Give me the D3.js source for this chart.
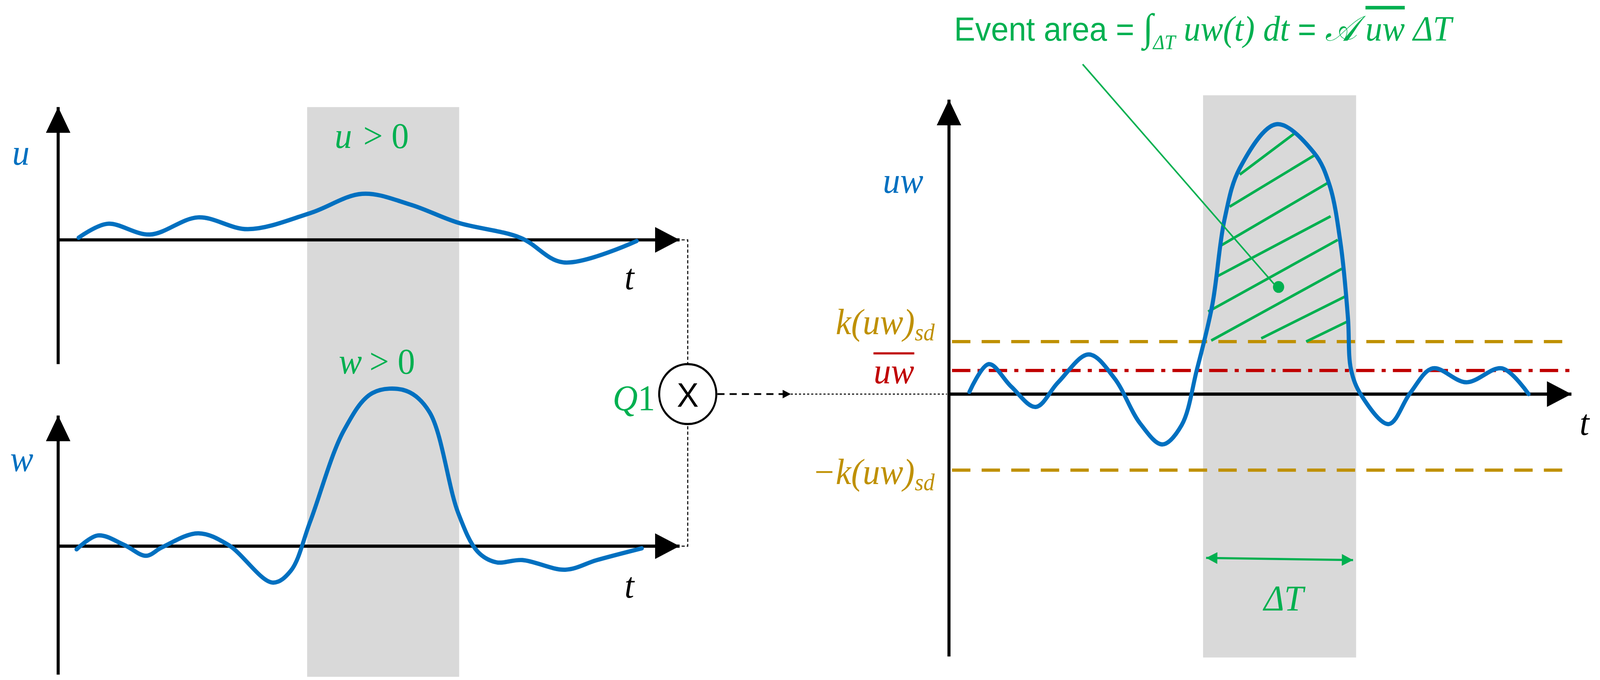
<!DOCTYPE html>
<html><head><meta charset="utf-8">
<script src="https://cdn.jsdelivr.net/npm/d3@7"></script>
<style>html,body{margin:0;padding:0;background:#fff;overflow:hidden}svg{display:block}</style>
</head><body>
<script>
// signals, t in viewBox units, value = height above each panel's time axis
const uT = [77,105,147,194,243,304,355,402,449,510,552,624]
const uV = [2,15,5,21,10,25,43,33,16,2,-21,-1]
const wT = [75,96,122,143,159,194,224,267,285,304,337,365,398,421,449,468,486,512,554,585,629]
const wV = [-3,10,1,-9,-1,12,1,-34,-23,23,108,143,145,125,31,-5,-15,-13,-22,-13,-2]
const uwT = [950,969,991,1015,1037,1067,1092,1117,1139,1158,1173,1188,1200,1215,1251,1288,1303,1314,1321,1324,1334,1361,1382,1404,1437,1472,1498]
const uwV = [2,28,7,-12,11,37,15,-27,-47,-29,23,83,163,211,252,225,195,139,71,23,-1,-28,1,24,11,24,0]
const uwMean = 22, kSd = 49, negKSd = -71
// hatch segments inside the event [t0, v0, t1, v1]
const hatch = [[1215,205,1268,243],[1205,175,1290,224],[1197,139,1301,197],[1193,110,1304,166],[1184,77,1311,144],[1187,50,1315,117],[1236,52,1318,91],[1280,49,1321,68]]
const eventStart = 1182, eventEnd = 1326

const svg = d3.select("body").append("svg")
  .attr("width", "100vw").attr("height", "100vh")
  .attr("viewBox", "0 0 1568 635").attr("preserveAspectRatio", "none")

const blue = "#0070C0", green = "#00B050", gold = "#BF9000", red = "#C00000", grey = "#D9D9D9"
const x = d3.scaleLinear().domain([0, 1568]).range([0, 1568])
const yU = d3.scaleLinear().domain([0, 100]).range([224, 124])
const yW = d3.scaleLinear().domain([0, 100]).range([510, 410])
const yUW = d3.scaleLinear().domain([0, 100]).range([368, 268])

const defs = svg.append("defs")
function marker(id, color, w, h) {
  defs.append("marker").attr("id", id).attr("viewBox", "0 0 10 10").attr("refX", 10).attr("refY", 5)
    .attr("markerWidth", w).attr("markerHeight", h).attr("markerUnits", "userSpaceOnUse").attr("orient", "auto-start-reverse")
    .append("path").attr("d", "M0,0L10,5L0,10Z").attr("fill", color)
}
marker("ax", "#000", 25, 24)
marker("gr", green, 12, 11)
marker("sm", "#000", 9, 8)

// grey event bands
svg.append("rect").attr("x", 301).attr("y", 100).attr("width", 149).attr("height", 532).attr("fill", grey)
svg.append("rect").attr("x", x(eventStart) - 3).attr("y", 89).attr("width", 150).attr("height", 525).attr("fill", grey)

function axes(x0, yTop, yAxis, yBot, xEnd) {
  svg.append("line").attr("x1", x0).attr("y1", yBot).attr("x2", x0).attr("y2", yTop)
    .attr("stroke", "#000").attr("stroke-width", 3).attr("marker-end", "url(#ax)")
  svg.append("line").attr("x1", x0).attr("y1", yAxis).attr("x2", xEnd).attr("y2", yAxis)
    .attr("stroke", "#000").attr("stroke-width", 3).attr("marker-end", "url(#ax)")
}
axes(57, 100, 224, 340, 666)
axes(57, 388, 510, 630, 666)
axes(930, 93, 368, 613, 1540)

// threshold lines
function hline(v, color, dash) {
  svg.append("line").attr("x1", 933).attr("x2", v === uwMean ? 1544 : 1531)
    .attr("y1", yUW(v)).attr("y2", yUW(v))
    .attr("stroke", color).attr("stroke-width", 3).attr("stroke-dasharray", dash)
}
hline(kSd, gold, "18,11")
hline(negKSd, gold, "18,11")
hline(uwMean, red, "18,7,4,7")

// hatch
svg.selectAll(".h").data(hatch).enter().append("line")
  .attr("x1", d => x(d[0])).attr("y1", d => yUW(d[1])).attr("x2", d => x(d[2])).attr("y2", d => yUW(d[3]))
  .attr("stroke", green).attr("stroke-width", 2.5)

// curves
const line = d3.line().curve(d3.curveCatmullRom.alpha(0.5))
function curve(ts, vs, y) {
  svg.append("path").attr("d", line(ts.map((t, i) => [x(t), y(vs[i])])))
    .attr("fill", "none").attr("stroke", blue).attr("stroke-width", 4).attr("stroke-linecap", "round")
}
curve(uT, uV, yU)
curve(wT, wV, yW)
curve(uwT, uwV, yUW)

// connectors
const dash = g => g.attr("stroke", "#000").attr("stroke-width", 1).attr("stroke-dasharray", "3,2").attr("fill", "none")
svg.append("path").attr("d", "M668,224H674V340").call(dash)
svg.append("path").attr("d", "M668,510H674V396").call(dash)
svg.append("circle").attr("cx", 674).attr("cy", 368).attr("r", 28).attr("fill", "#fff").attr("stroke", "#000").attr("stroke-width", 2)
svg.append("text").attr("x", 674).attr("y", 380).attr("text-anchor", "middle").attr("font-family", "Liberation Sans").attr("font-size", 32).text("X")
svg.append("line").attr("x1", 703).attr("y1", 368).attr("x2", 775).attr("y2", 368)
  .attr("stroke", "#000").attr("stroke-width", 1.6).attr("stroke-dasharray", "7,5").attr("marker-end", "url(#sm)")
svg.append("line").attr("x1", 775).attr("y1", 368).attr("x2", 928).attr("y2", 368)
  .attr("stroke", "#000").attr("stroke-width", 1).attr("stroke-dasharray", "2,2")

// event leader and duration arrow
svg.append("line").attr("x1", 1061).attr("y1", 60).attr("x2", 1252).attr("y2", 269).attr("stroke", green).attr("stroke-width", 1.5)
svg.append("circle").attr("cx", 1253).attr("cy", 268).attr("r", 5.5).attr("fill", green)
svg.append("line").attr("x1", x(eventStart)).attr("y1", 521).attr("x2", x(eventEnd)).attr("y2", 523)
  .attr("stroke", green).attr("stroke-width", 2).attr("marker-start", "url(#gr)").attr("marker-end", "url(#gr)")

// labels
const math = "Liberation Serif"
function txt(tx, ty, s, color, anchor, size) {
  return svg.append("text").attr("x", tx).attr("y", ty).attr("fill", color).attr("text-anchor", anchor || "start")
    .attr("font-family", math).attr("font-style", "italic").attr("font-size", size || 34).text(s)
}
txt(12, 154, "u", blue)
txt(10, 440, "w", blue)
txt(328, 138, "u", green); txt(356, 138, "> 0", green).attr("font-style", "normal")
txt(332, 349, "w", green); txt(362, 349, "> 0", green).attr("font-style", "normal")
txt(612, 270, "t", "#000")
txt(612, 558, "t", "#000")
txt(1548, 406, "t", "#000")
const q = txt(642, 383, "Q", green, "end"); q.append("tspan").attr("font-style", "normal").text("1")
txt(885, 180, "uw", blue, "middle")
const k1 = txt(916, 312, "k(uw)", gold, "end"); k1.append("tspan").attr("font-size", 22).attr("dy", 6).text("sd")
const k2 = txt(916, 452, "−k(uw)", gold, "end"); k2.append("tspan").attr("font-size", 22).attr("dy", 6).text("sd")
txt(876, 358, "uw", red, "middle")
svg.append("line").attr("x1", 856).attr("x2", 896).attr("y1", 330).attr("y2", 330).attr("stroke", red).attr("stroke-width", 2)
txt(1258, 570, "ΔT", green, "middle")

const title = svg.append("text").attr("x", 935).attr("y", 38).attr("fill", green).attr("font-size", 31).attr("font-family", "Liberation Sans")
title.append("tspan").text("Event area = ")
title.append("tspan").attr("font-family", math).attr("font-size", 36).text("∫")
title.append("tspan").attr("font-family", math).attr("font-style", "italic").attr("font-size", 19).attr("dy", 8).text("ΔT")
title.append("tspan").attr("font-family", math).attr("font-style", "italic").attr("font-size", 33).attr("dy", -8).text(" uw(t) dt ")
title.append("tspan").text("= ")
title.append("tspan").attr("font-family", math).attr("font-style", "italic").attr("font-size", 33).text("𝒜 ")
title.append("tspan").attr("font-family", math).attr("font-style", "italic").attr("font-size", 33).attr("text-decoration", "overline").text("uw")
title.append("tspan").attr("font-family", math).attr("font-style", "italic").attr("font-size", 33).text(" ΔT")
</script>
</body></html>
